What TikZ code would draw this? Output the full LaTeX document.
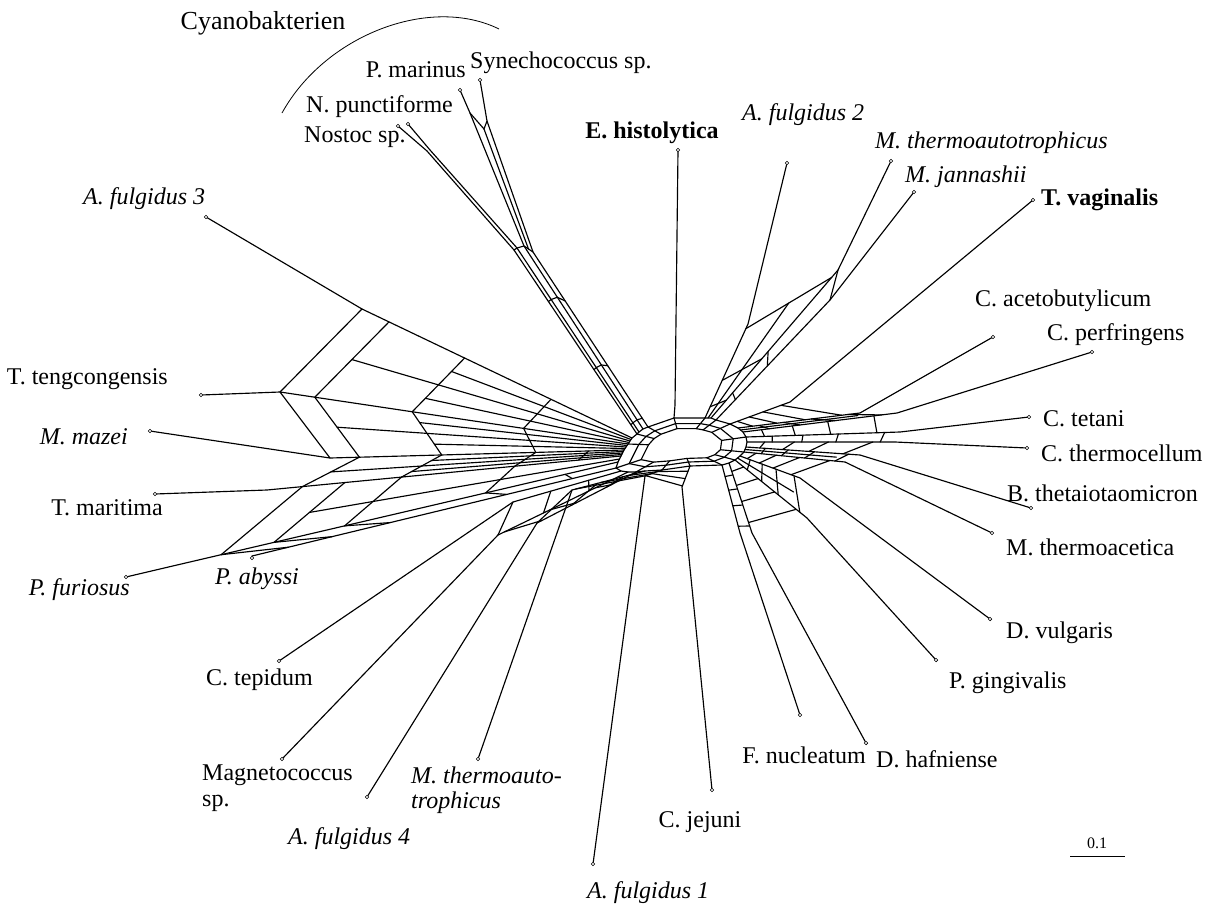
\documentclass[tikz,border=0pt]{standalone}
\usepackage{fontspec}
\setmainfont{Liberation Serif}
\newfontfamily\tnr{Liberation Serif}
\usetikzlibrary{calc}
\tikzset{
  net/.style={line width=1.15pt, line join=round, line cap=round},
  tipdot/.style={circle, draw, line width=0.6pt, inner sep=0pt, minimum size=3.6pt, fill=white},
  lab/.style={font=\tnr\fontsize{24}{28}\selectfont, inner sep=0pt},
  labi/.style={font=\tnr\fontsize{24}{28}\selectfont\itshape, inner sep=0pt},
  labb/.style={font=\tnr\fontsize{24}{28}\selectfont\bfseries, inner sep=0pt},
}
\begin{document}
\begin{tikzpicture}[x=1pt,y=-1pt]
\useasboundingbox (0,0) rectangle (1209,905);
% name / core start S / network base B / tip T
\foreach \n/\sx/\sy/\bx/\by/\tx/\ty in {
  Pab/616/468/252/556/252/558,
  Pfu/618/462/177/565/126/577,
  Tma/621/456/267/490/155/494,
  Mma/624/450/330/458/150/431,
  Tte/628/444/280/392/201/395,
  Af3/632/438/362/309/206/217,
  Nos/637/434/514/250/398/126,
  Npu/639/432/517/248/408/124,
  Pma/643/429/524/246/460/90,
  Syn/648/427/533/252/480/80,
  Ehi/674/418/675/405/678/150,
  Af2/705/418/748/324/787/163,
  Mth/711/418/838/270/891/161,
  Mja/716/420/830/300/914/192,
  Tva/730/424/790/402/1033/200,
  Cac/738/428/860/413/993/337,
  Cpe/743/432/897/413/1092/352,
  Cte/746/437/900/432/1029/417,
  Cth/747/442/895/442/1027/448,
  Bth/746/447/860/455/1031/508,
  Mta/744/452/845/462/992/533,
  Dvu/740/456/800/478/990/619,
  Pgi/735/460/807/518/936/660,
  Dha/729/463/752/533/866/743,
  Fnu/722/465/740/533/800/715,
  Cje/690/466/682/487/712/790,
  Af1/662/470/645/476/593/864,
  Mtb/645/471/572/490/478/759,
  Af4/636/472/537/523/367/797,
  Mag/628/472/498/535/282/759,
  Cti/621/471/513/502/279/661}
{
  \coordinate (S\n) at (\sx,\sy);
  \coordinate (B\n) at (\bx,\by);
  \coordinate (T\n) at (\tx,\ty);
}
\coordinate (M) at (682,446);
% ---------- core ----------
\draw[net] (SPab) -- (SPfu) -- (STma) -- (SMma) -- (STte) -- (SAf3) -- (SNos) -- (SNpu) -- (SPma) -- (SSyn)
  -- (SEhi) -- (SAf2) -- (SMth) -- (SMja) -- (STva) -- (SCac) -- (SCpe) -- (SCte) -- (SCth) -- (SBth)
  -- (SMta) -- (SDvu) -- (SPgi) -- (SDha) -- (SFnu) -- (SCje) -- (SAf1) -- (SMtb) -- (SAf4) -- (SMag)
  -- (SCti) -- cycle;
\foreach \r in {0.8,0.62}{
\draw[net] ($(M)!\r!(SPab)$) -- ($(M)!\r!(STte)$) -- ($(M)!\r!(SNos)$) -- ($(M)!\r!(SSyn)$) -- ($(M)!\r!(SEhi)$)
  -- ($(M)!\r!(SAf2)$) -- ($(M)!\r!(SMja)$) -- ($(M)!\r!(STva)$) -- ($(M)!\r!(SCte)$) -- ($(M)!\r!(SMta)$)
  -- ($(M)!\r!(SPgi)$) -- ($(M)!\r!(SFnu)$) -- ($(M)!\r!(SCje)$) -- ($(M)!\r!(SAf1)$) -- ($(M)!\r!(SAf4)$) -- cycle;
}
\foreach \n in {Pab,Tte,Nos,Syn,Ehi,Af2,Mja,Tva,Cte,Mta,Pgi,Fnu,Cje,Af1,Af4}
  \draw[net] (S\n) -- ($(M)!0.62!(S\n)$);
% ---------- strands and pendant edges ----------
\foreach \n in {Pab,Pfu,Tma,Mma,Tte,Af3,Ehi,Af2,Mth,Mja,Tva,Cac,Cpe,Cte,Cth,Bth,Mta,Dvu,Pgi,Dha,Fnu,Cje,Af1,Mtb,Af4,Mag,Cti}
  \draw[net] (S\n) -- (B\n) -- (T\n);
% cyanobacteria: narrow band, then split near the tips
\coordinate (jNos) at (427,151);
\coordinate (jNpu) at (430,150);
\coordinate (jPma) at (470,113);
\coordinate (jSyn) at (487,121);
\coordinate (jPS) at (484,129);
\foreach \n in {Nos,Npu,Pma,Syn}
  \draw[net] (S\n) -- (B\n) -- (j\n) -- (T\n);
\draw[net] (jPma) -- (jPS) -- (jSyn);
\draw[net] (jPS) -- ($(BPma)!.5!(BSyn)$);
\draw[net] (BNos) -- (BNpu) -- (BPma) -- (BSyn);
\foreach \a/\b in {Nos/Npu,Npu/Pma,Pma/Syn}
  \foreach \f in {0.05,0.35,0.72}
    \draw[net] ($(S\a)!\f!(B\a)$) -- ($(S\b)!\f!(B\b)$);
% ---------- extra strands inside wide bands ----------
\foreach \a/\b/\e in {Pfu/Tma/0.78,Tma/Mma/0.9,Mma/Tte/0.9,Tte/Af3/0.9,Af2/Mth/0.95,Cac/Cpe/0.85,Bth/Mta/0.85,Dvu/Pgi/0.85}
{
  \coordinate (pa) at ($(S\a)!\e!(B\a)$);
  \coordinate (pb) at ($(S\b)!\e!(B\b)$);
  \draw[net] ($(S\a)!.5!(S\b)$) -- ($(pa)!.5!(pb)$);
}
\foreach \a/\b/\e in {Tma/Mma/0.62,Mma/Tte/0.62,Tte/Af3/0.62}
{
  \coordinate (pa) at ($(S\a)!\e!(B\a)$);
  \coordinate (pb) at ($(S\b)!\e!(B\b)$);
  \draw[net] ($(S\a)!.25!(S\b)$) -- ($(pa)!.25!(pb)$);
  \draw[net] ($(S\a)!.75!(S\b)$) -- ($(pa)!.75!(pb)$);
}
% ---------- split rungs ----------
\foreach \a/\b in {Pab/Pfu,Pfu/Tma,Tma/Mma,Mma/Tte,Tte/Af3}
  \foreach \f in {0.3,0.62,0.9}
     \draw[net] ($(S\a)!\f!(B\a)$) -- ($(S\b)!\f!(B\b)$);
\foreach \a/\b/\f in {Tte/Af3/1,Mma/Tte/1,Pab/Pfu/0.78,Pfu/Tma/0.78,Tma/Mma/0.12,Pab/Pfu/0.12}
     \draw[net] ($(S\a)!\f!(B\a)$) -- ($(S\b)!\f!(B\b)$);
\foreach \a/\b/\o in {Af2/Mth/0,Mth/Mja/0.05}
  \foreach \f in {0.12,0.4,0.95}
    {\pgfmathsetmacro\g{min(\f+\o,1)}
     \draw[net] ($(S\a)!\g!(B\a)$) -- ($(S\b)!\g!(B\b)$);}
\foreach \a/\b/\o in {Tva/Cac/0,Cac/Cpe/0.05,Cpe/Cte/0,Cte/Cth/0.05,Cth/Bth/0,Bth/Mta/0.05,Mta/Dvu/0,Dvu/Pgi/0.05,Pgi/Dha/0,Dha/Fnu/0.05}
  \foreach \f in {0.12,0.32,0.55,0.85}
    {\pgfmathsetmacro\g{min(\f+\o,1)}
     \draw[net] ($(S\a)!\g!(B\a)$) -- ($(S\b)!\g!(B\b)$);}
\foreach \a/\b/\o in {Cje/Af1/0,Af1/Mtb/0,Mtb/Af4/0.05,Af4/Mag/0,Mag/Cti/0.05}
  \foreach \f in {0.25,0.6,0.95}
    {\pgfmathsetmacro\g{min(\f+\o,1)}
     \draw[net] ($(S\a)!\g!(B\a)$) -- ($(S\b)!\g!(B\b)$);}
% ---------- tip dots ----------
\foreach \n in {Pab,Pfu,Tma,Mma,Tte,Af3,Nos,Npu,Pma,Syn,Ehi,Af2,Mth,Mja,Tva,Cac,Cpe,Cte,Cth,Bth,Mta,Dvu,Pgi,Dha,Fnu,Cje,Af1,Mtb,Af4,Mag,Cti}
  \node[tipdot] (d\n) at (T\n) {};
% ---------- labels ----------
\node[font=\tnr\fontsize{26}{30}\selectfont, inner sep=0pt] (lCy) at (263,23) {Cyanobakterien};
\coordinate (arcA) at (282,113);
\coordinate (arcB) at (499,29);
\draw[line width=0.8pt] (arcA) .. controls (325,35) and (430,-5) .. (arcB);
\node[lab, anchor=west] (lSyn) at (470,63) {Synechococcus sp.};
\node[lab, anchor=east] (lPma) at (466,70) {P. marinus};
\node[lab, anchor=west] (lNpu) at (306,107) {N. punctiforme};
\node[lab, anchor=west] (lNos) at (304,137) {Nostoc sp.};
\node[labi, anchor=west] (lAf3) at (83,199) {A. fulgidus 3};
\node[labb] (lEhi) at (652,133) {E. histolytica};
\node[labi, anchor=west] (lAf2) at (742,115) {A. fulgidus 2};
\node[labi, anchor=west] (lMth) at (875,143) {M. thermoautotrophicus};
\node[labi, anchor=west] (lMja) at (905,177) {M. jannashii};
\node[labb, anchor=west] (lTva) at (1041,200) {T. vaginalis};
\node[lab, anchor=west] (lCac) at (975,301) {C. acetobutylicum};
\node[lab, anchor=west] (lCpe) at (1047,335) {C. perfringens};
\node[lab, anchor=west] (lCte) at (1043,419) {C. tetani};
\node[lab, anchor=west] (lCth) at (1041,453) {C. thermocellum};
\node[lab, anchor=west] (lBth) at (1007,493) {B. thetaiotaomicron};
\node[lab, anchor=west] (lMta) at (1006,547) {M. thermoacetica};
\node[lab, anchor=west] (lDvu) at (1006,633) {D. vulgaris};
\node[lab, anchor=west] (lPgi) at (949,683) {P. gingivalis};
\node[lab, anchor=west] (lDha) at (876,759) {D. hafniense};
\node[lab, anchor=east] (lFnu) at (866,755) {F. nucleatum};
\node[lab] (lCje) at (700,822) {C. jejuni};
\node[labi, anchor=west] (lAf1) at (587,893) {A. fulgidus 1};
\node[labi, anchor=west] (lMtb) at (411,775) {M. thermoauto-};
\node[labi, anchor=west] (lMtb2) at (411,803) {trophicus};
\node[labi, anchor=west] (lAf4) at (288,839) {A. fulgidus 4};
\node[lab, anchor=west] (lMag) at (202,775) {Magnetococcus};
\node[lab, anchor=west] (lMag2) at (202,803) {sp.};
\node[lab, anchor=west] (lCti) at (206,680) {C. tepidum};
\node[labi, anchor=west] (lPab) at (215,579) {P. abyssi};
\node[labi, anchor=east] (lPfu) at (130,590) {P. furiosus};
\node[lab, anchor=east] (lTma) at (163,508) {T. maritima};
\node[labi, anchor=east] (lMma) at (128,437) {M. mazei};
\node[lab, anchor=east] (lTte) at (168,379) {T. tengcongensis};
% ---------- scale bar ----------
\coordinate (sb1) at (1070,856);
\coordinate (sb2) at (1125,856);
\draw[line width=0.9pt] (sb1) -- (sb2);
\node[font=\tnr\fontsize{16}{18}\selectfont, inner sep=0pt] (lsb) at (1097,843) {0.1};
\end{tikzpicture}
\end{document}
